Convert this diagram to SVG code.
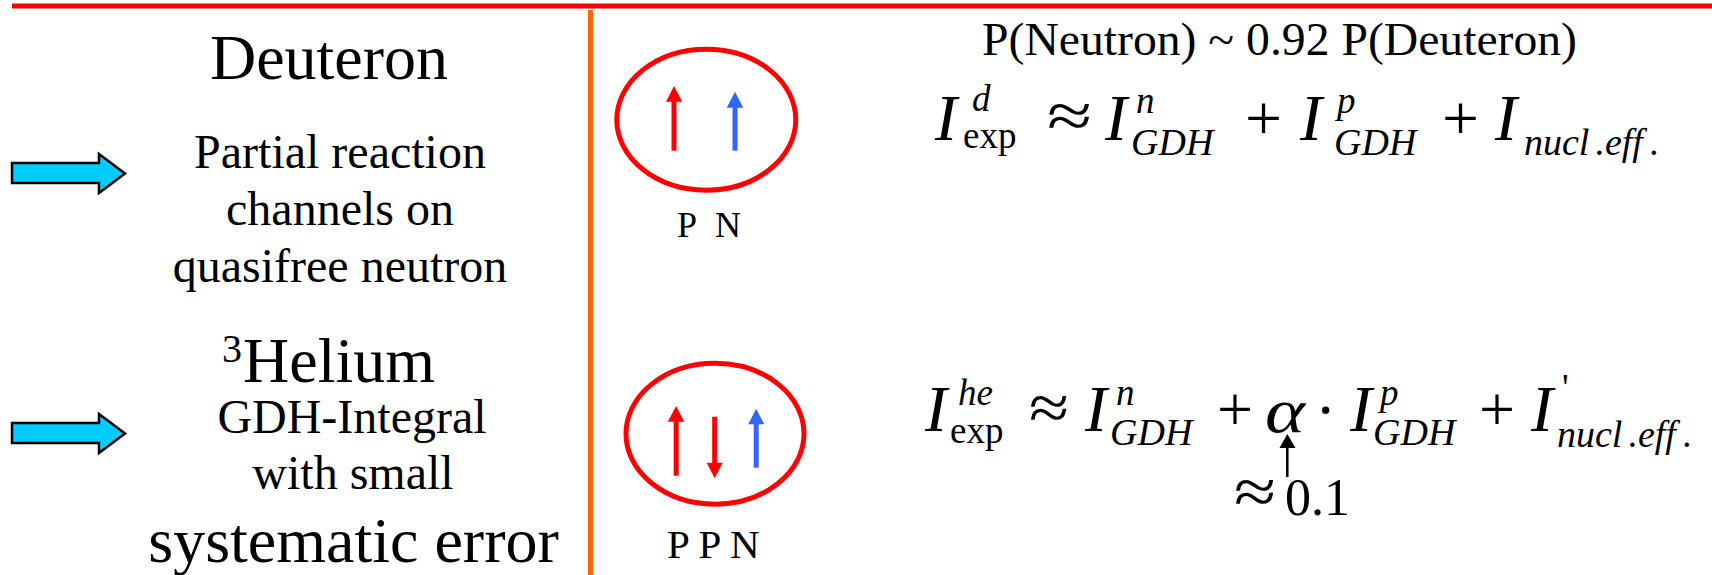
<svg xmlns="http://www.w3.org/2000/svg" width="1712" height="575" viewBox="0 0 1712 575">
<style>
text{font-family:"Liberation Serif","Times New Roman",serif;fill:#000}
.c{text-anchor:middle}
.blk{fill:#00CCFF;stroke:#000;stroke-width:2.5;stroke-linejoin:miter}
.nuc{fill:none;stroke:#FF0000;stroke-width:5}
.sr{stroke:#FF0000;stroke-width:5}
.sb{stroke:#3366FF;stroke-width:5}
.hr{fill:#FF0000}
.hb{fill:#3366FF}
.bigI{font-size:66px;font-style:italic}
.sup{font-size:37px;font-style:italic}
.sub{font-size:38px;font-style:italic}
.rm{font-size:37px;font-style:normal}
.op{font-size:64px}
</style>
<rect width="1712" height="575" fill="#fff"/>
<g id="frame">
<line x1="12" y1="6" x2="1712" y2="6" stroke="#FF0000" stroke-width="5"/>
<line x1="590.5" y1="10" x2="590.5" y2="575" stroke="#FF6600" stroke-width="5"/>
</g>
<g id="arrow-deuteron">
<polygon class="blk" points="12,163 99,163 99,154 125,173.5 99,193 99,183 12,183"/>
</g>
<g id="arrow-helium">
<polygon class="blk" points="12,423 99,423 99,414 125,433.5 99,453 99,443 12,443"/>
</g>
<g id="deuteron-label">
<text class="c" x="329" y="79" font-size="64">Deuteron</text>
<text class="c" x="340" y="168" font-size="48">Partial reaction</text>
<text class="c" x="340" y="225" font-size="48">channels on</text>
<text class="c" x="340" y="282" font-size="48">quasifree neutron</text>
</g>
<g id="helium-label">
<text x="222" y="382" font-size="64"><tspan font-size="40" y="362">3</tspan><tspan x="243" y="382">Helium</tspan></text>
<text class="c" x="352" y="433" font-size="48">GDH-Integral</text>
<text class="c" x="353" y="489" font-size="48">with small</text>
<text class="c" x="353.5" y="562" font-size="64">systematic error</text>
</g>
<g id="deuteron-nucleus">
<ellipse class="nuc" cx="706.3" cy="119.7" rx="89.5" ry="70.5"/>
<line class="sr" x1="674" y1="150.7" x2="674" y2="100"/>
<polygon class="hr" points="666,101.7 682.3,101.7 674,86"/>
<line class="sb" x1="735" y1="150.7" x2="735" y2="106"/>
<polygon class="hb" points="726.7,107.7 743.3,107.7 735,91.7"/>
<text x="677" y="236.7" font-size="36"><tspan x="677">P</tspan><tspan x="715">N</tspan></text>
</g>
<g id="helium-nucleus">
<ellipse class="nuc" cx="715" cy="433.7" rx="89" ry="70.5"/>
<line class="sr" x1="676.2" y1="475.7" x2="676.2" y2="420"/>
<polygon class="hr" points="667.7,421.7 684.3,421.7 676.2,406"/>
<line class="sr" x1="714.7" y1="416.7" x2="714.7" y2="464"/>
<polygon class="hr" points="706.7,462.7 722.7,462.7 714.7,478.3"/>
<line class="sb" x1="756.2" y1="467.7" x2="756.2" y2="423"/>
<polygon class="hb" points="748.3,424.3 764.3,424.3 756.2,408.7"/>
<text x="667" y="558.3" font-size="41">P P N</text>
</g>
<g id="deuteron-formula">
<text x="982" y="55" font-size="47" textLength="595" lengthAdjust="spacingAndGlyphs">P(Neutron) ~ 0.92 P(Deuteron)</text>
<text class="bigI" x="935" y="139.5">I<tspan class="sup" x="972" y="111">d</tspan><tspan class="rm" x="963" y="148">exp</tspan></text>
<text class="op" x="1047" y="137" textLength="45" lengthAdjust="spacingAndGlyphs">≈</text>
<text class="bigI" x="1105" y="139.5">I<tspan class="sup" x="1136" y="113">n</tspan><tspan class="sub" x="1131" y="155">GDH</tspan></text>
<text class="op" x="1245" y="139.5" textLength="37" lengthAdjust="spacingAndGlyphs">+</text>
<text class="bigI" x="1300" y="139.5">I<tspan class="sup" x="1337" y="113">p</tspan><tspan class="sub" x="1334" y="155">GDH</tspan></text>
<text class="op" x="1442" y="139.5" textLength="37" lengthAdjust="spacingAndGlyphs">+</text>
<text class="bigI" x="1495" y="139.5">I<tspan class="sub" x="1524" y="155">nucl</tspan><tspan class="sub" dx="6">.eff</tspan><tspan class="sub" dx="7">.</tspan></text>
</g>
<g id="helium-formula">
<text class="bigI" x="925" y="431">I<tspan class="sup" x="958" y="405">he</tspan><tspan class="rm" x="950" y="443">exp</tspan></text>
<text class="op" x="1029" y="429" textLength="40" lengthAdjust="spacingAndGlyphs">≈</text>
<text class="bigI" x="1085" y="431">I<tspan class="sup" x="1116" y="405">n</tspan><tspan class="sub" x="1110" y="445">GDH</tspan></text>
<text class="op" x="1217" y="431" textLength="36" lengthAdjust="spacingAndGlyphs">+</text>
<text x="1265" y="432" font-size="64" font-style="italic" textLength="40" lengthAdjust="spacingAndGlyphs">α</text>
<text class="op" x="1315" y="431">·</text>
<text class="bigI" x="1350" y="431">I<tspan class="sup" x="1380" y="405">p</tspan><tspan class="sub" x="1373" y="445">GDH</tspan></text>
<text class="op" x="1479" y="431" textLength="36" lengthAdjust="spacingAndGlyphs">+</text>
<text class="bigI" x="1531" y="431">I<tspan class="rm" x="1562" y="400">'</tspan><tspan class="sub" x="1557" y="447">nucl</tspan><tspan class="sub" dx="6">.eff</tspan><tspan class="sub" dx="7">.</tspan></text>
<text x="1234" y="513" font-size="64" textLength="42" lengthAdjust="spacingAndGlyphs">≈</text>
<text x="1285" y="515" font-size="52">0.1</text>
</g>
<g id="connectors">
<line x1="1287.3" y1="477" x2="1287.3" y2="446" stroke="#000" stroke-width="2.5"/>
<polygon points="1279.5,448 1295.5,448 1287.3,434" fill="#000"/>
</g>
</svg>
